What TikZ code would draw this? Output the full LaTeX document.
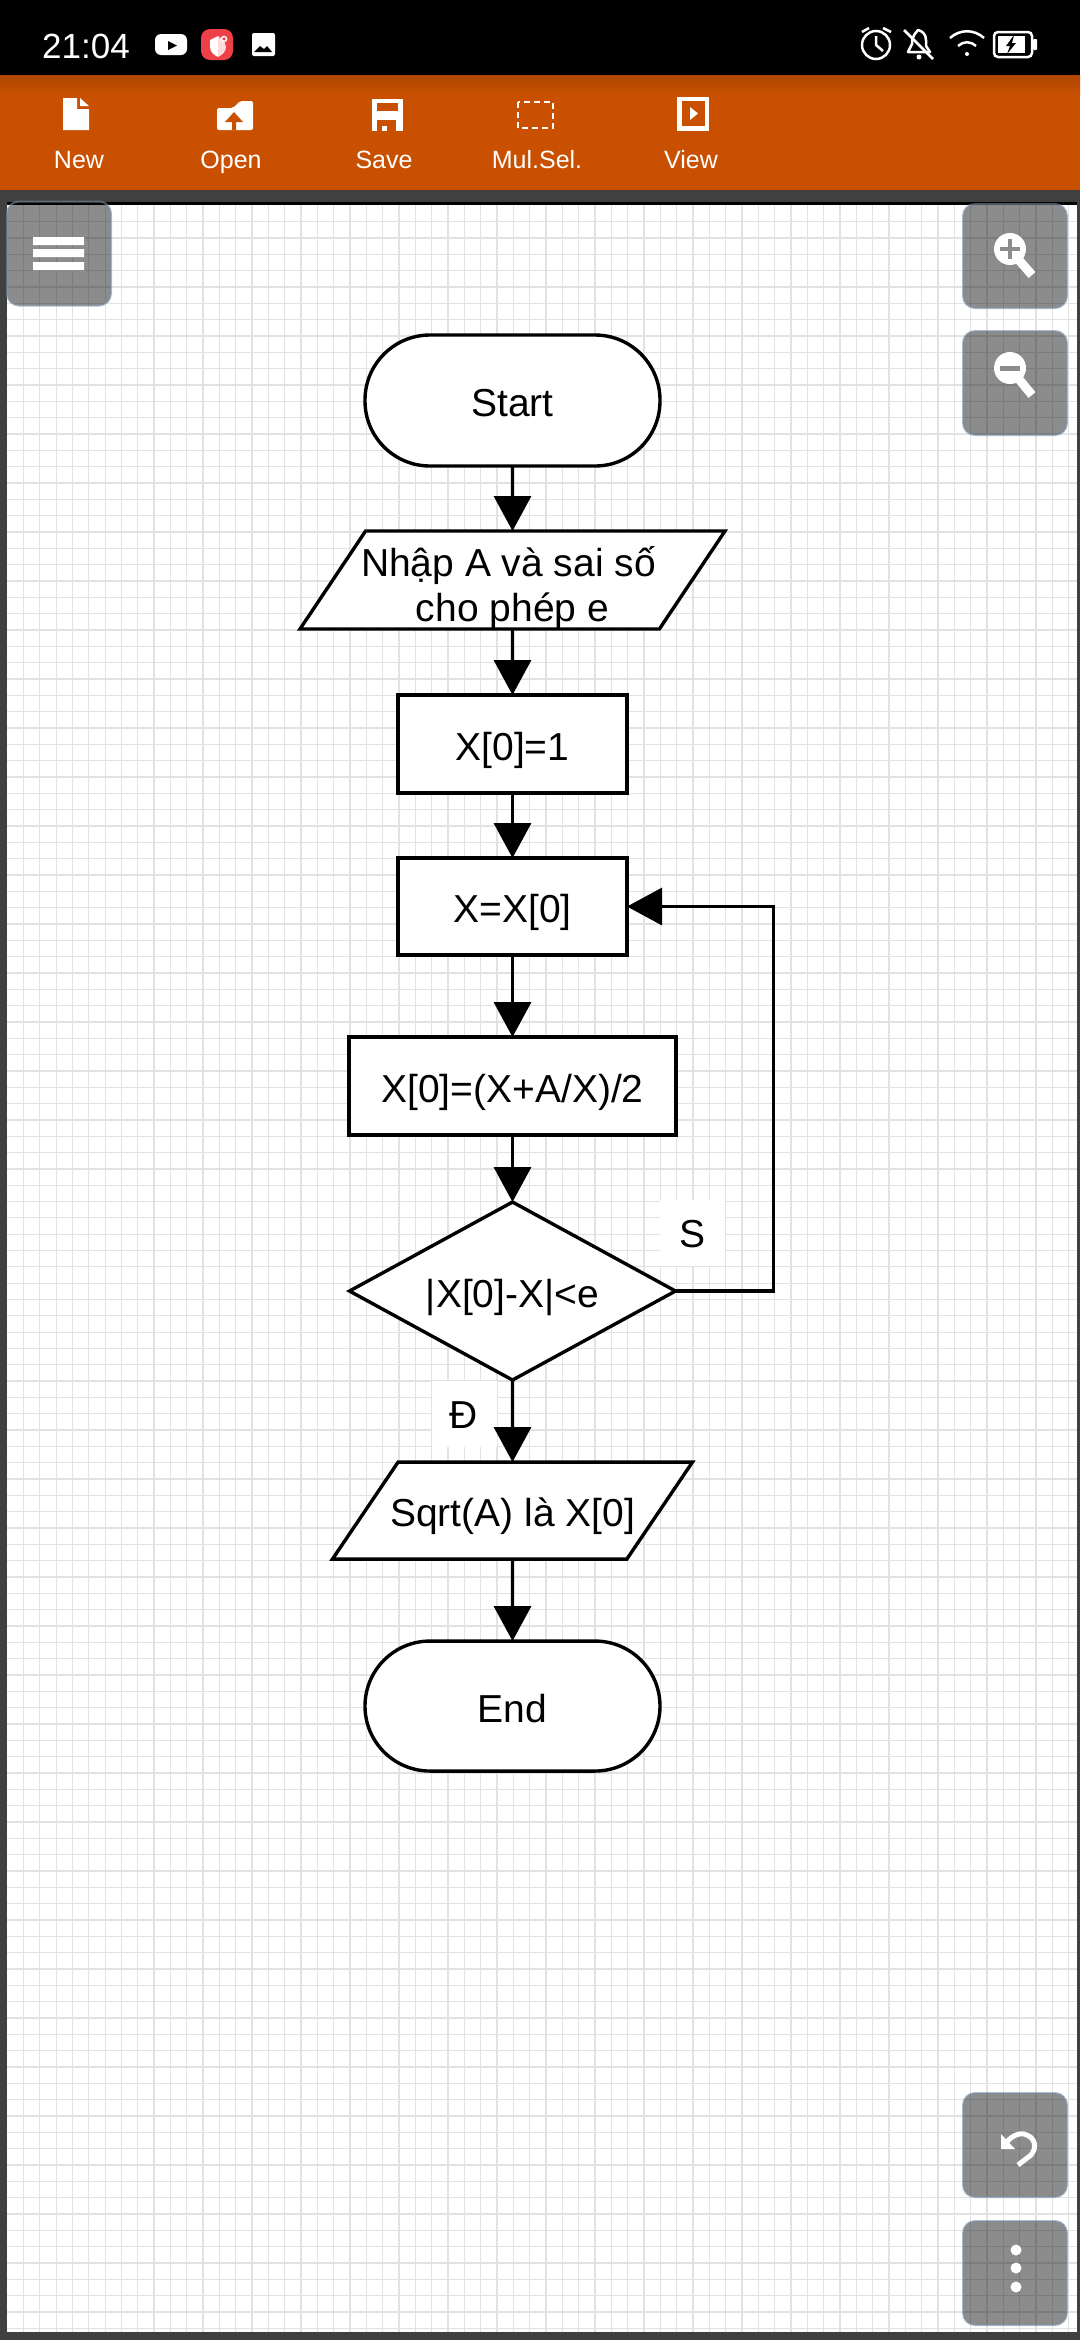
\documentclass[tikz,border=0pt]{standalone}
\usepackage{fontspec}
\setmainfont{Liberation Sans}
\usetikzlibrary{arrows.meta}
\usetikzlibrary{positioning}
\usetikzlibrary{shapes.geometric}
\definecolor{barorange}{HTML}{C95000}
\definecolor{bartop}{HTML}{AE4600}
\definecolor{framegray}{HTML}{404040}
\definecolor{gridgray}{HTML}{E2E2E2}
\definecolor{btngray}{HTML}{8C8C8C}
\definecolor{btnedge}{HTML}{7A8FA6}
\definecolor{shieldred}{HTML}{EE4049}
\tikzset{
	box/.style={draw,fill=white,line width=3.4pt,inner sep=0pt,outer sep=0pt,minimum height=98pt,text height=32pt,text depth=0pt,font=\fontsize{39}{45}\selectfont},
	term/.style={box,rounded corners=65pt,minimum width=295pt,minimum height=131pt},
	proc/.style={box,minimum width=229pt},
	io/.style={box,trapezium,trapezium stretches body=true,trapezium left angle=26,trapezium right angle=154},
	test/.style={box,diamond,minimum width=326pt,minimum height=178pt,aspect=1.83},
	lab/.style={fill=white,inner sep=0pt,minimum width=65pt,minimum height=66pt,text height=29pt,text depth=0pt,font=\fontsize{39}{45}\selectfont},
	tool/.style={text=white,inner sep=0pt,text height=16pt,text depth=0pt,font=\fontsize{25}{30}\selectfont},
	btn/.style={fill=black,fill opacity=.45,draw=btnedge,draw opacity=.6,line width=2pt,rounded corners=12pt,minimum width=104pt,minimum height=104pt,inner sep=0pt},
	gridline/.style={gridgray,line width=1.3pt},
	icon/.style={draw=white,line width=2.5pt}
}
\begin{document}
\begin{tikzpicture}[x=1pt,y=-1pt,>={Triangle[length=35pt,width=37pt]}]
	\useasboundingbox (0,0) rectangle (1080,2340);
	\fill[black] (0,0) rectangle (1080,75);
	\fill[barorange] (0,75) rectangle (1080,190);
	\shade[top color=bartop,bottom color=barorange] (0,75) rectangle (1080,95);
	\fill[framegray] (0,190) rectangle (1080,2340);
	\fill[black] (7,202) rectangle (1077,205);
	\fill[white] (7,205) rectangle (1077,2332);
	\foreach \k in {0,...,64}
		\draw[gridline] ({23.5+16.33*\k},205) -- ({23.5+16.33*\k},2332);
	\foreach \k in {0,...,129}
		\draw[gridline] (7,{221.7+16.33*\k}) -- (1077,{221.7+16.33*\k});

	\node[text=white,inner sep=0pt,text height=26pt,text depth=0pt,font=\fontsize{35}{40}\selectfont] (t_time) at (86,45) {21:04};
	\fill[white,rounded corners=6pt] (155,34) rectangle (187,55);
	\fill[black] (168,41) -- (177,45.5) -- (168,50) -- cycle;
	\fill[shieldred,rounded corners=9pt] (201,29) rectangle (233,60);
	\fill[white] (218,36) -- (210,40) -- (210,47) .. controls (210,52) and (214,55) .. (218,57) -- cycle;
	\fill[white!80!shieldred] (218,36) -- (224,41) -- (226,47) .. controls (226,52) and (222,55) .. (218,57) -- cycle;
	\draw[white,line width=1.5pt] (224,39) circle (2.5pt);
	\fill[white,rounded corners=2pt] (252,33) rectangle (275,56);
	\fill[black] (254,52) -- (260,46) -- (264,49) -- (267,46) -- (272,52) -- cycle;

	\draw[icon] (876,45) circle (14pt);
	\draw[icon,line join=round] (876,36) -- (876,45) -- (883,51);
	\draw[icon] (862,32) -- (869,28) (883,28) -- (891,32);
	\draw[icon,line join=round] (908,52) -- (930,52) -- (926,46) -- (926,40) .. controls (926,34) and (922,31) .. (918,30) .. controls (916,33) and (912,35) .. (912,44) -- cycle;
	\draw[icon] (904,30) -- (933,59);
	\fill[white] (919,57) circle (2.5pt);
	\draw[icon] (950,38) .. controls (960,29) and (974,29) .. (984,38);
	\draw[icon] (958,46) .. controls (963,41) and (971,41) .. (976,46);
	\fill[white] (967,54) circle (2pt);
	\draw[icon,rounded corners=4pt] (994,32) rectangle (1032,57);
	\fill[white] (998,36) rectangle (1025,53);
	\fill[white,rounded corners=1pt] (1033,39) rectangle (1037,50);
	\fill[black] (1014,35) -- (1006,46) -- (1010,46) -- (1007,54) -- (1016,43) -- (1012,43) -- cycle;

	\fill[white] (63,98) -- (77,98) -- (77,109) -- (89,109) -- (89,130) -- (63,130) -- cycle;
	\fill[white] (80,98) -- (89,106) -- (80,106) -- cycle;
	\fill[white,rounded corners=2pt] (217,130) -- (217,108) -- (233,108) -- (240,101) -- (253,101) -- (253,130) -- cycle;
	\fill[barorange] (234,112) -- (243,122) -- (236,122) -- (236,130) -- (232,130) -- (232,122) -- (225,122) -- cycle;
	\fill[white] (372,99) rectangle (403,131);
	\fill[barorange] (377,103) rectangle (398,111);
	\fill[barorange] (377,120) rectangle (396,131);
	\fill[white] (382,126) rectangle (387,131);
	\draw[white,line width=2pt,dash pattern=on 6pt off 4pt] (518,102) rectangle (553,128);
	\fill[white] (677,97) rectangle (709,131);
	\fill[barorange] (682,101) rectangle (705,126);
	\fill[white] (690,107) -- (698,113.5) -- (690,120) -- cycle;

	\node[tool] (t_new) at (79,160) {New};
	\node[tool] (t_open) at (231,160) {Open};
	\node[tool] (t_save) at (384,160) {Save};
	\node[tool] (t_sel) at (537,160) {Mul.Sel.};
	\node[tool] (t_view) at (691,160) {View};

	\node[term] (b_start) at (512.5,400.5) {Start};
	\node[io,minimum width=425pt] (b_input) [below=65pt of b_start] {\makebox[100pt]{\begin{tabular}{@{}c@{}}Nhập A và sai số\hspace*{8pt}\\cho phép e\end{tabular}}};
	\node[proc] (b_init) [below=66pt of b_input] {X[0]=1};
	\node[proc,minimum height=97pt] (b_copy) [below=65pt of b_init] {X=X[0]};
	\node[proc,minimum width=327pt] (b_calc) [below=82pt of b_copy] {X[0]=(X+A/X)/2};
	\node[test] (b_test) [below=67pt of b_calc] {|X[0]-X|<e};
	\node[io,minimum width=360pt,minimum height=97pt] (b_out) [below=82pt of b_test] {\makebox[100pt]{Sqrt(A) là X[0]}};
	\node[term,minimum height=130pt] (b_end) [below=82pt of b_out] {End};
	\coordinate[right=98pt of b_test.east] (c_loop);
	\node[lab] (l_no) at (692,1233) {S};
	\node[lab] (l_yes) at (464,1414) {Đ};

	\path[->,line width=3.4pt] (b_start) edge (b_input)
	(b_input) edge (b_init)
	(b_init) edge (b_copy)
	(b_copy) edge (b_calc)
	(b_calc) edge (b_test)
	(b_test) edge (b_out)
	(b_out) edge (b_end)
	;
	\draw[->,line width=3.4pt] (b_test.east) -- (c_loop) |- (b_copy.east);

	\node[btn] (m_menu) at (59,253.5) {};
	\node[btn] (m_in) at (1015,256) {};
	\node[btn] (m_out) at (1015,383) {};
	\node[btn] (m_undo) at (1015,2145) {};
	\node[btn] (m_more) at (1015,2273) {};

	\fill[white] (33,237) rectangle (84,245) (33,249) rectangle (84,257) (33,262) rectangle (84,270);
	\fill[white] (1010,249) circle (16pt);
	\draw[white,line width=9pt] (1018,259) -- (1032,275);
	\draw[btngray,line width=4pt] (1000,249) -- (1020,249) (1010,239) -- (1010,259);
	\fill[white] (1010,368) circle (16pt);
	\draw[white,line width=9pt] (1018,378) -- (1032,395);
	\draw[btngray,line width=5pt] (1000,368) -- (1020,368);
	\fill[white] (1001,2134) -- (1001,2149) -- (1015,2149) -- cycle;
	\draw[white,line width=5pt] (1006,2143) .. controls (1012,2135) and (1020,2133) .. (1024,2134) .. controls (1036,2137) and (1037,2148) .. (1031,2155) -- (1018,2165);
	\foreach \y in {2250,2268,2287}
		\fill[white] (1016,\y) circle (5.5pt);
\end{tikzpicture}
\end{document}
